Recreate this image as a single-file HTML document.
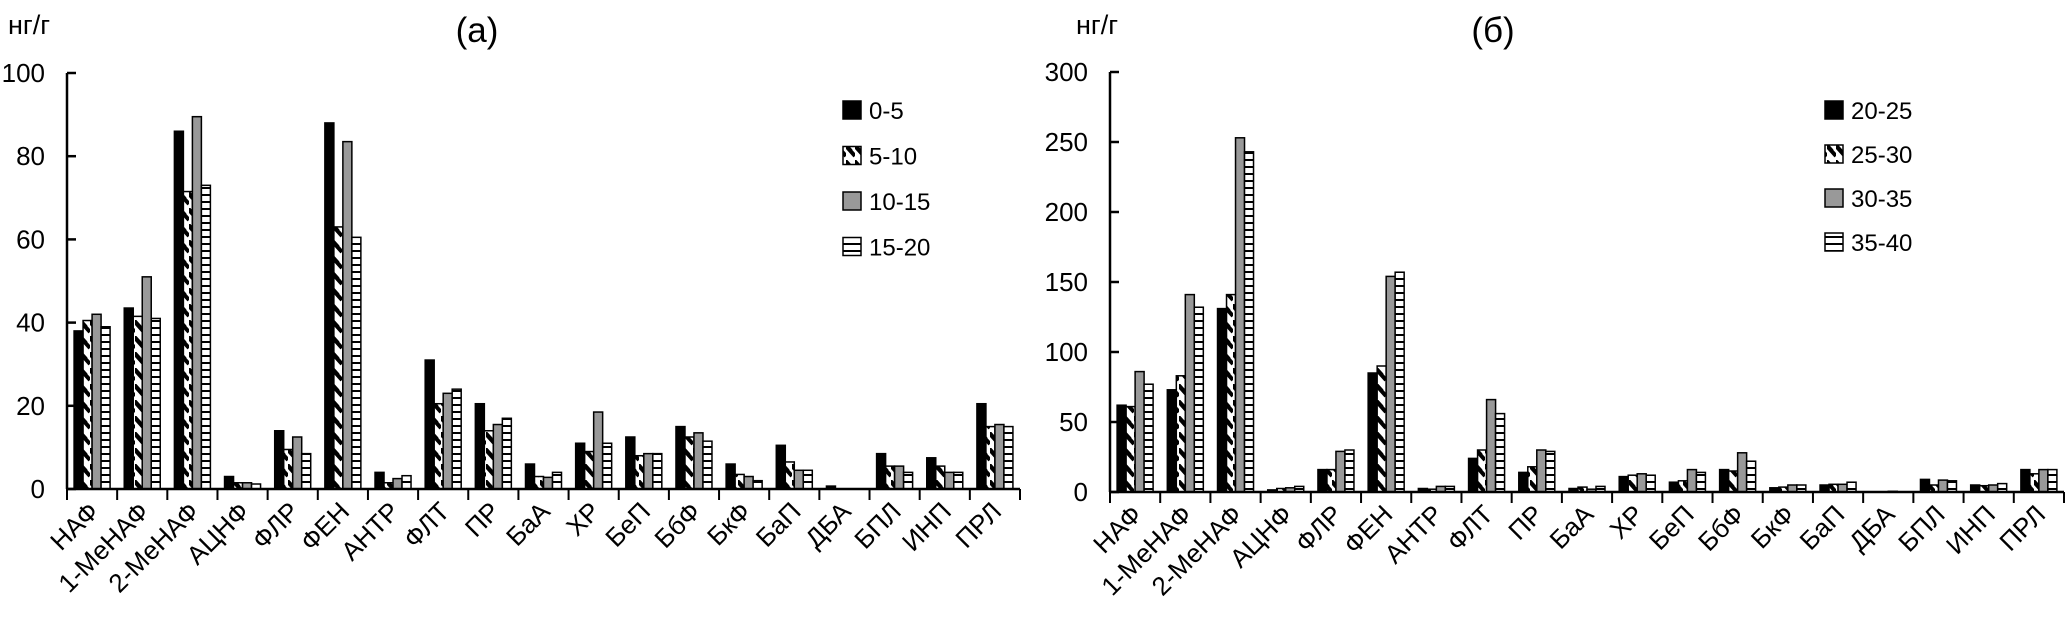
<!DOCTYPE html>
<html><head><meta charset="utf-8">
<style>
html,body{margin:0;padding:0;background:#fff;}
svg{display:block;font-family:"Liberation Sans","DejaVu Sans",sans-serif;}
</style></head>
<body>
<svg id="chart" width="2067" height="632" viewBox="0 0 2067 632" xmlns="http://www.w3.org/2000/svg">
<defs>
<pattern id="pDiag" patternUnits="userSpaceOnUse" width="9" height="16">
<rect width="9" height="16" fill="#fff"/>
<path d="M0,2 L9,12" stroke="#000" stroke-width="4"/>
<path d="M-4,-3 L5,7" stroke="#000" stroke-width="4"/>
</pattern>
<pattern id="pGrid" patternUnits="userSpaceOnUse" width="9" height="7">
<rect width="9" height="7" fill="#fff"/>
<path d="M0,6 L9,6" stroke="#000" stroke-width="2"/>
</pattern>
</defs>
<g id="root"></g>
</svg>
<script>
const categories = ["НАФ","1-МеНАФ","2-МеНАФ","АЦНФ","ФЛР","ФЕН","АНТР","ФЛТ","ПР","БаА","ХР","БеП","БбФ","БкФ","БаП","ДБА","БПЛ","ИНП","ПРЛ"];
const seriesNamesA = ["0-5","5-10","10-15","15-20"];
const seriesNamesB = ["20-25","25-30","30-35","35-40"];
const a1 = [38,43.5,86,3,14,88,4,31,20.5,6,11,12.5,15,6,10.5,0.7,8.5,7.5,20.5];
const a2 = [40.5,41.5,71.5,1.5,9.5,63,1.5,20.5,14,3,9,8,12.5,3.5,6.5,0,5.5,5.5,15];
const a3 = [42,51,89.5,1.5,12.5,83.5,2.5,23,15.5,2.8,18.5,8.5,13.5,3,4.5,0,5.5,4,15.5];
const a4 = [39,41,73,1.2,8.5,60.5,3.2,24,17,4,11,8.5,11.5,2,4.5,0,4,4,15];
const b1 = [62,73,131,1.5,16,85,2.5,24,14,2.5,11,7,16,3,5,0,9,5,16];
const b2 = [61,83,141,2.5,16,90,2,30,18,3.5,12,8,15,3.5,5.5,0,5,4.5,13];
const b3 = [86,141,253,3,29,154,4,66,30,2,13,16,28,5,5.5,0.5,8.5,5,16];
const b4 = [77,132,243,4,30,157,4,56,29,4,12,14,22,5,7,0,8,6,16];
const ticksA = [0,20,40,60,80,100];
const ticksB = [0,50,100,150,200,250,300];

const NS="http://www.w3.org/2000/svg";
const root=document.getElementById('root');
function mk(tag,attrs,parent){const e=document.createElementNS(NS,tag);for(const k in attrs)e.setAttribute(k,attrs[k]);(parent||root).appendChild(e);return e;}
const fills=["#000","url(#pDiag)","#999","url(#pGrid)"];

function drawPanel(cfg){
  const g=mk('g',{});
  
  
  const x0=cfg.x0,x1=cfg.x1,y0=cfg.y0,yTop=cfg.yTop,max=cfg.max;
  const yS=v=>y0-(v/max)*(y0-yTop);
  const cw=(x1-x0)/categories.length;
  const bw=9;
  cfg.series.forEach((vals,si)=>{
    vals.forEach((v,ci)=>{
      const bx=x0+ci*cw+(cw-4*bw)/2+si*bw;
      const y=yS(v);
      const r=mk('rect',{x:bx,y:y,width:bw,height:Math.max(0,y0-y),fill:fills[si],stroke:"#000","stroke-width":1.5},g);
      
      
    });
  });
  const ya=mk('line',{x1:x0,y1:yTop,x2:x0,y2:y0,stroke:"#000","stroke-width":2.5},g);
  
  
  const xa=mk('line',{x1:x0,y1:y0,x2:x1,y2:y0,stroke:"#000","stroke-width":2.5},g);
  
  
  cfg.ticks.forEach(t=>{
    const y=yS(t);
    mk('line',{x1:x0,y1:y,x2:x0+9,y2:y,stroke:"#000","stroke-width":2.5},g);
    const tx=mk('text',{x:x0-22,y:y+9,"text-anchor":"end","font-size":26,fill:"#000"},g);
    tx.textContent=t;
    
    
  });
  for(let i=0;i<=categories.length;i++){
    const x=x0+i*cw;
    mk('line',{x1:x,y1:y0,x2:x,y2:y0+11,stroke:"#000","stroke-width":2},g);
  }
  categories.forEach((c,ci)=>{
    const cx=x0+ci*cw+cw/2+8, cy=y0+24;
    const t=mk('text',{x:cx,y:cy,"text-anchor":"end","font-size":26,fill:"#000",transform:`rotate(-45 ${cx} ${cy})`},g);
    t.textContent=c;
    
    
  });
  const u=mk('text',{x:cfg.unitX,y:34,"font-size":27,fill:"#000"},g);
  u.textContent="нг/г";
  
  
  const ti=mk('text',{x:cfg.titleX,y:42,"font-size":35,"text-anchor":"middle",fill:"#000"},g);
  ti.textContent=cfg.title;
  
  
  cfg.seriesNames.forEach((n,si)=>{
    const ly=cfg.legY+si*cfg.legStep;
    const lr=mk('rect',{x:cfg.legX,y:ly-9,width:18,height:18,fill:fills[si],stroke:"#000","stroke-width":1.5},g);
    
    
    const lt=mk('text',{x:cfg.legX+26,y:ly+9,"font-size":24,fill:"#000"},g);
    lt.textContent=n;
    
    
  });
}
drawPanel({name:'panel-a',x0:67,x1:1020,y0:489,yTop:73,max:100,ticks:ticksA,series:[a1,a2,a3,a4],seriesNames:seriesNamesA,unitX:8,titleX:477,title:"(a)",legX:843,legY:110,legStep:45.5});
drawPanel({name:'panel-b',x0:1110,x1:2064,y0:492,yTop:72,max:300,ticks:ticksB,series:[b1,b2,b3,b4],seriesNames:seriesNamesB,unitX:1076,titleX:1493,title:"(б)",legX:1825,legY:110,legStep:44});
</script>
</body></html>
